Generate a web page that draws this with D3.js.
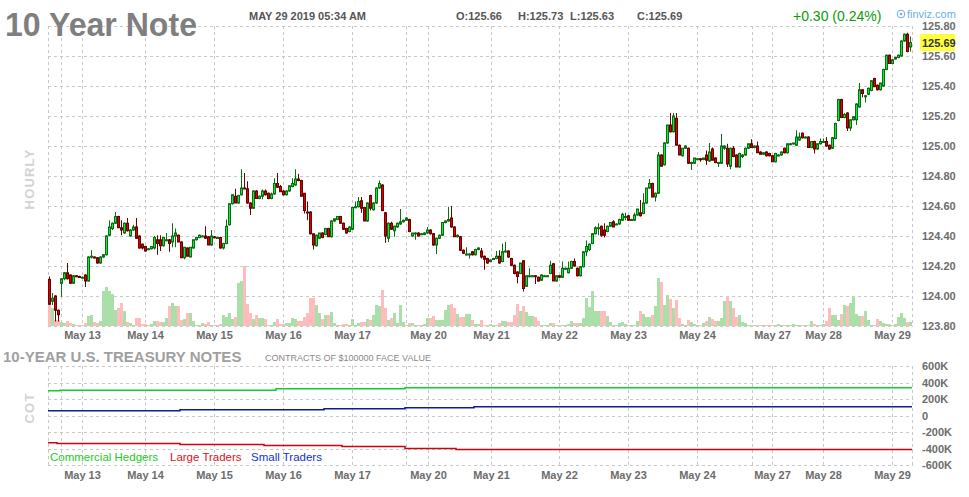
<!DOCTYPE html>
<html>
<head>
<meta charset="utf-8">
<script src="https://cdn.jsdelivr.net/npm/d3@7"></script>
<style>
    body { margin: 0; background: #fff; }
    text { font-family: "Liberation Sans", Arial, sans-serif; }
</style>
</head>
<body>
<script>
//wrap everything in a self-executing anonymous function to keep it local
(function(){

    //hourly bars, 10 Year Note futures, May 10 - May 29 2019
    var opens = [
        124.11,123.965,124.00,123.905,124.085,124.115,124.155,124.14,124.085,124.135,124.13,124.125,
        124.14,124.10,124.26,124.26,124.255,124.22,124.26,124.275,124.405,124.45,124.485,124.53,
        124.455,124.42,124.485,124.40,124.44,124.46,124.40,124.345,124.33,124.315,124.315,124.32,
        124.375,124.375,124.335,124.37,124.375,124.36,124.40,124.405,124.36,124.255,124.32,124.26,
        124.32,124.375,124.39,124.40,124.40,124.395,124.34,124.395,124.39,124.39,124.32,124.35,
        124.475,124.615,124.665,124.62,124.675,124.72,124.715,124.62,124.585,124.70,124.65,124.665,
        124.70,124.685,124.65,124.68,124.75,124.73,124.70,124.675,124.70,124.73,124.74,124.78,
        124.77,124.685,124.56,124.56,124.415,124.335,124.385,124.42,124.41,124.45,124.395,124.50,
        124.51,124.53,124.485,124.45,124.43,124.445,124.59,124.595,124.635,124.59,124.50,124.67,
        124.575,124.62,124.72,124.74,124.555,124.385,124.485,124.435,124.46,124.48,124.495,124.505,
        124.51,124.40,124.42,124.42,124.415,124.41,124.42,124.44,124.415,124.34,124.385,124.405,
        124.49,124.50,124.52,124.46,124.395,124.395,124.305,124.275,124.28,124.295,124.275,124.31,
        124.30,124.265,124.25,124.23,124.245,124.25,124.265,124.23,124.295,124.30,124.25,124.205,
        124.16,124.15,124.235,124.065,124.13,124.135,124.135,124.125,124.105,124.135,124.135,124.15,
        124.215,124.10,124.135,124.125,124.18,124.155,124.185,124.23,124.185,124.135,124.195,124.295,
        124.31,124.35,124.415,124.455,124.465,124.44,124.43,124.465,124.495,124.48,124.48,124.505,
        124.53,124.535,124.51,124.505,124.54,124.555,124.55,124.62,124.72,124.75,124.66,124.685,
        124.94,124.875,125.02,125.14,125.095,125.185,125.005,124.935,124.985,124.985,124.89,124.885,
        124.915,124.915,124.91,124.94,124.90,124.98,124.92,124.89,124.885,124.985,124.985,124.865,
        124.985,124.94,124.86,124.93,124.94,124.985,125.015,124.99,125.00,124.96,124.945,124.96,
        124.95,124.935,124.895,124.935,124.94,124.985,124.955,125.015,125.015,125.005,125.04,125.085,
        125.06,125.06,124.99,125.03,124.98,125.015,125.03,125.03,125.005,124.985,125.05,125.17,
        125.31,125.19,125.22,125.12,125.175,125.175,125.26,125.375,125.335,125.345,125.37,125.45,
        125.405,125.375,125.40,125.51,125.605,125.55,125.58,125.59,125.60,125.70,125.745,125.66
    ];
    var highs = [
        124.13,124.02,124.005,123.91,124.115,124.16,124.22,124.145,124.14,124.14,124.135,124.13,
        124.145,124.265,124.305,124.265,124.26,124.265,124.28,124.405,124.505,124.49,124.56,124.535,
        124.505,124.49,124.52,124.445,124.475,124.52,124.405,124.35,124.335,124.32,124.33,124.40,
        124.405,124.405,124.39,124.42,124.38,124.485,124.45,124.41,124.365,124.325,124.325,124.325,
        124.375,124.395,124.41,124.405,124.465,124.40,124.44,124.40,124.395,124.395,124.355,124.51,
        124.615,124.675,124.715,124.675,124.845,124.82,124.765,124.625,124.705,124.705,124.67,124.71,
        124.71,124.69,124.69,124.785,124.82,124.74,124.705,124.705,124.735,124.785,124.845,124.815,
        124.775,124.685,124.63,124.565,124.415,124.41,124.42,124.425,124.455,124.455,124.505,124.515,
        124.53,124.535,124.49,124.455,124.465,124.595,124.63,124.66,124.66,124.595,124.625,124.675,
        124.625,124.725,124.77,124.745,124.56,124.49,124.495,124.47,124.49,124.58,124.51,124.525,
        124.515,124.42,124.425,124.425,124.42,124.425,124.46,124.445,124.42,124.39,124.41,124.49,
        124.505,124.595,124.60,124.465,124.41,124.40,124.31,124.325,124.285,124.30,124.315,124.325,
        124.32,124.27,124.255,124.245,124.255,124.30,124.305,124.35,124.36,124.305,124.255,124.21,
        124.165,124.22,124.24,124.135,124.185,124.14,124.14,124.13,124.145,124.14,124.14,124.235,
        124.22,124.135,124.14,124.23,124.19,124.23,124.235,124.25,124.19,124.20,124.30,124.37,
        124.35,124.42,124.465,124.485,124.47,124.485,124.47,124.49,124.505,124.485,124.515,124.555,
        124.555,124.54,124.515,124.555,124.58,124.64,124.685,124.72,124.78,124.755,124.69,124.96,
        124.945,125.025,125.14,125.22,125.22,125.22,125.01,124.985,125.005,124.99,124.895,124.92,
        124.92,124.92,124.92,124.97,125.02,124.99,124.925,124.895,125.08,125.005,125.015,124.99,
        125.00,124.945,124.955,124.945,124.99,125.015,125.045,125.005,125.03,124.965,124.96,124.965,
        124.955,124.94,124.955,124.945,124.965,124.99,125.015,125.02,125.02,125.105,125.09,125.09,
        125.065,125.065,125.03,125.035,125.015,125.05,125.05,125.06,125.01,125.06,125.155,125.315,
        125.315,125.22,125.225,125.175,125.20,125.285,125.42,125.38,125.34,125.39,125.44,125.455,
        125.41,125.42,125.515,125.61,125.61,125.58,125.595,125.61,125.705,125.75,125.755,125.73
    ];
    var lows = [
        123.94,123.94,123.83,123.83,123.995,124.105,124.11,124.08,124.08,124.125,124.12,124.12,
        124.06,124.095,124.25,124.25,124.215,124.215,124.255,124.27,124.40,124.44,124.48,124.455,
        124.405,124.415,124.43,124.395,124.435,124.38,124.315,124.31,124.295,124.31,124.31,124.31,
        124.275,124.30,124.33,124.365,124.295,124.325,124.325,124.36,124.255,124.245,124.265,124.26,
        124.315,124.37,124.385,124.395,124.38,124.34,124.335,124.385,124.385,124.315,124.31,124.345,
        124.47,124.61,124.62,124.615,124.67,124.715,124.615,124.54,124.58,124.65,124.645,124.645,
        124.67,124.645,124.645,124.675,124.72,124.695,124.67,124.67,124.695,124.725,124.735,124.765,
        124.665,124.55,124.505,124.41,124.31,124.33,124.38,124.385,124.405,124.395,124.39,124.495,
        124.505,124.48,124.44,124.415,124.425,124.44,124.585,124.59,124.555,124.50,124.495,124.57,
        124.57,124.615,124.715,124.565,124.355,124.36,124.44,124.395,124.455,124.475,124.49,124.50,
        124.425,124.395,124.375,124.395,124.41,124.405,124.415,124.41,124.335,124.28,124.38,124.40,
        124.485,124.495,124.455,124.395,124.39,124.30,124.28,124.27,124.25,124.27,124.27,124.305,
        124.25,124.175,124.215,124.225,124.24,124.245,124.215,124.225,124.29,124.255,124.20,124.145,
        124.085,124.145,124.03,124.06,124.125,124.13,124.08,124.095,124.10,124.13,124.13,124.145,
        124.10,124.095,124.12,124.12,124.175,124.15,124.18,124.195,124.13,124.13,124.19,124.265,
        124.30,124.345,124.41,124.405,124.395,124.39,124.425,124.46,124.46,124.475,124.475,124.50,
        124.505,124.50,124.505,124.50,124.535,124.53,124.545,124.615,124.715,124.66,124.63,124.68,
        124.865,124.87,125.015,125.09,125.09,125.005,124.94,124.93,124.98,124.88,124.84,124.88,
        124.91,124.895,124.905,124.875,124.895,124.905,124.885,124.86,124.88,124.975,124.86,124.845,
        124.925,124.86,124.855,124.92,124.935,124.98,124.99,124.985,124.955,124.945,124.94,124.93,
        124.93,124.895,124.89,124.93,124.935,124.95,124.95,125.01,125.01,125.00,125.035,125.05,
        125.05,124.99,124.985,124.95,124.975,125.01,125.025,124.995,124.975,124.98,125.045,125.165,
        125.19,125.185,125.10,125.10,125.17,125.14,125.255,125.325,125.29,125.34,125.365,125.395,
        125.37,125.37,125.395,125.505,125.55,125.545,125.575,125.585,125.595,125.695,125.625,125.63
    ];
    var closes = [
        123.945,123.985,123.905,123.875,124.115,124.155,124.115,124.085,124.135,124.13,124.125,124.125,
        124.10,124.26,124.265,124.255,124.22,124.26,124.275,124.40,124.46,124.485,124.53,124.455,
        124.44,124.485,124.435,124.44,124.46,124.385,124.32,124.32,124.30,124.315,124.33,124.39,
        124.35,124.335,124.39,124.375,124.35,124.40,124.42,124.36,124.255,124.325,124.265,124.325,
        124.375,124.39,124.405,124.40,124.385,124.34,124.40,124.39,124.39,124.32,124.35,124.465,
        124.615,124.675,124.62,124.67,124.72,124.715,124.62,124.585,124.70,124.65,124.665,124.70,
        124.675,124.65,124.68,124.75,124.725,124.695,124.675,124.70,124.735,124.75,124.78,124.77,
        124.665,124.57,124.555,124.415,124.34,124.405,124.42,124.39,124.45,124.395,124.50,124.515,
        124.53,124.485,124.445,124.42,124.46,124.59,124.595,124.63,124.585,124.50,124.62,124.585,
        124.62,124.72,124.75,124.57,124.40,124.485,124.445,124.465,124.485,124.495,124.505,124.52,
        124.43,124.42,124.42,124.40,124.415,124.42,124.44,124.415,124.34,124.385,124.405,124.49,
        124.50,124.51,124.46,124.395,124.405,124.305,124.285,124.28,124.28,124.275,124.31,124.32,
        124.26,124.245,124.22,124.24,124.25,124.265,124.22,124.295,124.30,124.26,124.205,124.15,
        124.13,124.22,124.05,124.135,124.135,124.135,124.13,124.10,124.14,124.135,124.135,124.205,
        124.10,124.135,124.125,124.185,124.185,124.185,124.23,124.20,124.135,124.195,124.295,124.33,
        124.345,124.415,124.455,124.455,124.405,124.405,124.465,124.49,124.46,124.48,124.51,124.545,
        124.53,124.505,124.51,124.54,124.58,124.535,124.62,124.72,124.75,124.66,124.685,124.94,
        124.865,125.02,125.14,125.095,125.20,125.005,124.94,124.985,125.00,124.885,124.89,124.92,
        124.915,124.91,124.92,124.905,124.96,124.905,124.89,124.89,125.00,125.00,124.88,124.985,
        124.93,124.86,124.95,124.94,124.985,125.015,124.99,125.00,124.955,124.945,124.955,124.935,
        124.935,124.895,124.95,124.94,124.96,124.955,125.015,125.015,125.02,125.06,125.06,125.055,
        125.06,124.99,125.03,124.98,125.015,125.03,125.03,125.00,124.98,125.055,125.15,125.31,
        125.19,125.21,125.12,125.175,125.195,125.28,125.375,125.35,125.335,125.385,125.435,125.395,
        125.375,125.42,125.51,125.605,125.55,125.575,125.59,125.605,125.70,125.745,125.63,125.69
    ];
    //volume, thousands of contracts
    var volumes = [
        21,18,6,6,4,3,5,3,2,1,1,1,  3,10,11,4,3,5,35,39,35,32,16,18,
        23,15,4,3,1,8,8,2,2,1,2,5,  5,4,4,8,20,23,20,20,6,7,13,13,
        5,1,1,3,2,4,1,1,1,2,11,9,  13,7,9,43,45,60,22,13,7,11,8,8,
        7,1,1,4,7,2,2,3,3,8,7,5,  5,9,13,28,28,21,13,7,11,11,14,3,
        1,1,2,2,1,7,1,3,4,4,7,6,  11,21,20,36,18,6,8,13,3,21,4,1,
        3,3,1,1,1,2,8,8,10,6,6,6,  16,21,22,18,12,9,9,12,12,6,2,2,
        6,1,1,2,1,1,3,5,5,4,4,11,  22,15,20,14,10,10,9,5,1,1,1,3,
        3,1,1,1,1,2,5,3,3,3,8,28,  19,35,15,15,15,15,10,4,1,1,3,4,
        2,1,1,1,5,15,12,9,9,11,20,48,  44,21,31,27,18,26,8,2,1,6,4,2,
        1,1,3,5,9,7,5,5,8,25,30,25,  18,9,11,4,3,1,1,1,1,1,1,1,
        1,1,1,2,1,1,1,1,2,1,1,1,  1,1,5,2,1,1,2,5,18,11,11,6,
        12,21,20,23,30,12,10,10,15,6,1,1,  7,5,3,2,2,1,2,9,13,8,4,4
    ];

    //x axis: day labels sit at bar positions, week breaks get their own grid line
    var dayLabels = ["May 13","May 14","May 15","May 16","May 17","May 20","May 21",
                     "May 22","May 23","May 24","May 27","May 28","May 29"];
    var dayTickIdx = [11.33,32.33,55.33,78.33,101.33,126.67,147.67,170.33,193.33,216.33,241.33,258.33,281.33];
    var weekBreakIdx = [4.33,119.33,234.67];
    var priceTicks = [123.8,124.0,124.2,124.4,124.6,124.8,125.0,125.2,125.4,125.6,125.8];

    //COT positions (thousands of contracts), stepped at bar index
    var hedgersIdx = [0,4,76,119,288],        hedgersVal = [300,307,324,336,336];
    var largeIdx = [0,3,44,72,98,119,136,288], largeVal = [-331,-339,-352,-364,-376,-400,-412,-412];
    var smallIdx = [0,44,92,119,142,288],     smallVal = [57,69,81,93,105,105];
    var cotTicks = [-600,-400,-200,0,200,400,600];

    var lastPrice = 125.69;

    //colors
    var upFill = "#10e83a", upLine = "#0a6e12",
        downFill = "#d80000", downLine = "#6e0000",
        upVol = "#aadfaa", downVol = "#ffbcbc",
        gridColor = "#c8c8c8", axisText = "#6c6c6c";

    var svg = d3.select("body")
        .append("svg")
        .attr("width", 969)
        .attr("height", 497);

    //scales
    var x = d3.scaleLinear().domain([0, opens.length]).range([48, 912]);
    var y = d3.scaleLinear().domain([123.8, 125.8]).range([326, 26]);
    var v = d3.scaleLinear().domain([0, d3.max(volumes)]).range([326, 266]);
    var cot = d3.scaleLinear().domain([-600, 600]).range([465, 366]);

    var vLines = [0, opens.length].concat(weekBreakIdx, dayTickIdx);

    //dashed grid for a panel
    function drawGrid(top, bottom, yVals, yScale){
        var g = svg.append("g").attr("class", "grid");
        g.selectAll(".gv")
            .data(vLines)
            .enter()
            .append("line")
            .attr("x1", function(d){ return Math.round(x(d)) + 0.5; })
            .attr("x2", function(d){ return Math.round(x(d)) + 0.5; })
            .attr("y1", top)
            .attr("y2", bottom);
        g.selectAll(".gh")
            .data(yVals)
            .enter()
            .append("line")
            .attr("x1", 48)
            .attr("x2", 913)
            .attr("y1", function(d){ return Math.round(yScale(d)) + 0.5; })
            .attr("y2", function(d){ return Math.round(yScale(d)) + 0.5; });
        g.selectAll("line")
            .attr("stroke", gridColor)
            .attr("stroke-width", 1)
            .attr("stroke-dasharray", "3,3");
    }

    drawGrid(26, 326, priceTicks, y);
    drawGrid(366, 466, cotTicks, cot);

    var idx = d3.range(opens.length);
    function isUp(i){ return closes[i] >= opens[i]; }

    //volume bars
    svg.append("g")
        .selectAll("rect")
        .data(idx)
        .enter()
        .append("rect")
        .attr("x", function(i){ return x(i); })
        .attr("width", 3)
        .attr("y", function(i){ return v(volumes[i]); })
        .attr("height", function(i){ return 326 - v(volumes[i]); })
        .attr("fill", function(i){ return isUp(i) ? upVol : downVol; });

    //wicks
    svg.append("g")
        .selectAll("line")
        .data(idx)
        .enter()
        .append("line")
        .attr("x1", function(i){ return x(i) + 1.5; })
        .attr("x2", function(i){ return x(i) + 1.5; })
        .attr("y1", function(i){ return y(highs[i]); })
        .attr("y2", function(i){ return y(lows[i]); })
        .attr("stroke", function(i){ return isUp(i) ? upLine : downLine; })
        .attr("stroke-width", 1);

    //candle bodies
    svg.append("g")
        .selectAll("rect")
        .data(idx)
        .enter()
        .append("rect")
        .attr("x", function(i){ return x(i) + 0.5; })
        .attr("width", 2)
        .attr("y", function(i){ return y(Math.max(opens[i], closes[i])); })
        .attr("height", function(i){ return Math.max(1, Math.abs(y(opens[i]) - y(closes[i]))); })
        .attr("fill", function(i){ return isUp(i) ? upFill : downFill; })
        .attr("stroke", function(i){ return isUp(i) ? upLine : downLine; })
        .attr("stroke-width", 1);

    //price axis on the right
    var yAxis = d3.axisRight(y)
        .tickValues(priceTicks)
        .tickSize(0)
        .tickPadding(10)
        .tickFormat(d3.format(".2f"));
    var priceAxis = svg.append("g")
        .attr("transform", "translate(912,0)")
        .call(yAxis);

    //COT axis on the right
    var cotAxis = svg.append("g")
        .attr("transform", "translate(912,0)")
        .call(d3.axisRight(cot)
            .tickValues(cotTicks)
            .tickSize(0)
            .tickPadding(10)
            .tickFormat(function(d){ return d === 0 ? "0" : d + "K"; }));

    //date axes under both panels
    var dayAxis = d3.axisBottom(x)
        .tickValues(dayTickIdx)
        .tickSize(0)
        .tickFormat(function(d, i){ return dayLabels[i]; });
    var dates1 = svg.append("g").attr("transform", "translate(0,326)").call(dayAxis);
    var dates2 = svg.append("g").attr("transform", "translate(0,466)").call(dayAxis);
    [dates1, dates2].forEach(function(g){
        g.selectAll("text").attr("dy", null).attr("y", 13);
    });

    [priceAxis, cotAxis, dates1, dates2].forEach(function(g){
        g.select(".domain").remove();
        g.selectAll("text")
            .attr("fill", axisText)
            .style("font-family", '"Liberation Sans", Arial, sans-serif')
            .style("font-size", "11px")
            .style("font-weight", "bold");
    });

    //last price marker
    svg.append("rect")
        .attr("x", 920)
        .attr("y", y(lastPrice) - 8.5)
        .attr("width", 35)
        .attr("height", 17)
        .attr("fill", "#ffff3c");
    svg.append("text")
        .attr("x", 922)
        .attr("y", y(lastPrice) + 4)
        .attr("fill", "#333")
        .style("font-size", "11px")
        .style("font-weight", "bold")
        .text(d3.format(".2f")(lastPrice));

    //COT lines
    var cotLine = d3.line()
        .x(function(d){ return x(d[0]); })
        .y(function(d){ return cot(d[1]); })
        .curve(d3.curveStepAfter);
    var cotSeries = [
        {pts: d3.zip(hedgersIdx, hedgersVal), color: "#10cc30"},
        {pts: d3.zip(smallIdx, smallVal), color: "#0c1c9c"},
        {pts: d3.zip(largeIdx, largeVal), color: "#d40010"}
    ];
    svg.append("g")
        .selectAll("path")
        .data(cotSeries)
        .enter()
        .append("path")
        .attr("d", function(d){ return cotLine(d.pts); })
        .attr("fill", "none")
        .attr("stroke", function(d){ return d.color; })
        .attr("stroke-width", 1.5);

    //legend
    var legend = [
        {label: "Commercial Hedgers", x: 50, color: "#22cc22"},
        {label: "Large Traders", x: 170, color: "#dd1122"},
        {label: "Small Traders", x: 251, color: "#1133cc"}
    ];
    svg.append("g")
        .selectAll("text")
        .data(legend)
        .enter()
        .append("text")
        .attr("x", function(d){ return d.x; })
        .attr("y", 461)
        .attr("fill", function(d){ return d.color; })
        .style("font-size", "11.5px")
        .text(function(d){ return d.label; });

    //titles and header
    svg.append("text")
        .attr("x", 5)
        .attr("y", 36)
        .attr("fill", "#7f7f7f")
        .attr("textLength", 192)
        .attr("lengthAdjust", "spacingAndGlyphs")
        .style("font-size", "34px")
        .style("font-weight", "bold")
        .text("10 Year Note");

    var header = [
        {t: "MAY 29 2019 05:34 AM", x: 249},
        {t: "O:125.66", x: 456},
        {t: "H:125.73", x: 518},
        {t: "L:125.63", x: 570},
        {t: "C:125.69", x: 637}
    ];
    svg.append("g")
        .selectAll("text")
        .data(header)
        .enter()
        .append("text")
        .attr("x", function(d){ return d.x; })
        .attr("y", 20)
        .attr("fill", "#555")
        .style("font-size", "11px")
        .style("font-weight", "bold")
        .text(function(d){ return d.t; });

    svg.append("text")
        .attr("x", 793)
        .attr("y", 21)
        .attr("fill", "#0a9a0a")
        .style("font-size", "14px")
        .text("+0.30 (0.24%)");

    //finviz mark
    svg.append("circle")
        .attr("cx", 901).attr("cy", 14).attr("r", 3.8)
        .attr("fill", "none").attr("stroke", "#6ab0e0").attr("stroke-width", 1);
    svg.append("circle")
        .attr("cx", 901).attr("cy", 14).attr("r", 1.3)
        .attr("fill", "#6ab0e0");
    svg.append("text")
        .attr("x", 907)
        .attr("y", 18)
        .attr("fill", "#6ab0e0")
        .style("font-size", "11px")
        .text("finviz.com");

    //side labels
    svg.append("text")
        .attr("transform", "translate(34,179) rotate(-90)")
        .attr("text-anchor", "middle")
        .attr("fill", "#d2d2d2")
        .style("font-size", "13px")
        .style("font-weight", "bold")
        .style("letter-spacing", "1.2px")
        .text("HOURLY");
    svg.append("text")
        .attr("transform", "translate(34,408) rotate(-90)")
        .attr("text-anchor", "middle")
        .attr("fill", "#d2d2d2")
        .style("font-size", "13px")
        .style("font-weight", "bold")
        .style("letter-spacing", "1.2px")
        .text("COT");

    //COT panel titles
    svg.append("text")
        .attr("x", 3)
        .attr("y", 362)
        .attr("fill", "#a0a0a0")
        .style("font-size", "15px")
        .style("font-weight", "bold")
        .text("10-YEAR U.S. TREASURY NOTES");
    svg.append("text")
        .attr("x", 265)
        .attr("y", 361)
        .attr("fill", "#888")
        .style("font-size", "9px")
        .text("CONTRACTS OF $100000 FACE VALUE");

})();
</script>
</body>
</html>
